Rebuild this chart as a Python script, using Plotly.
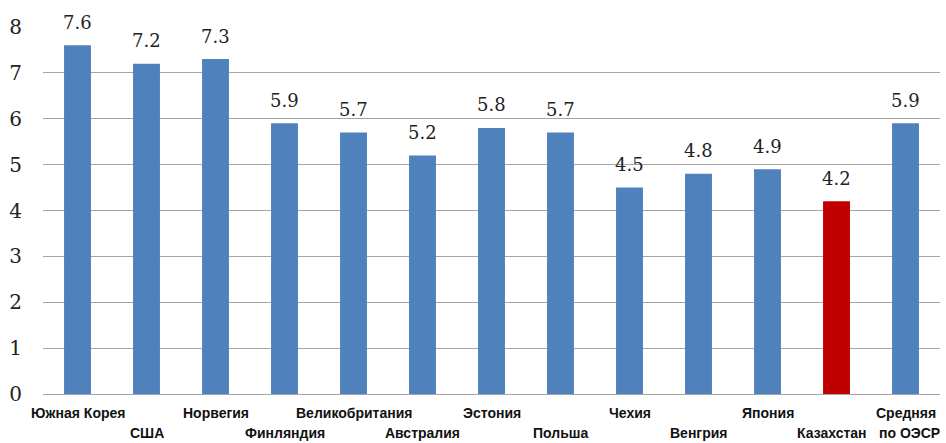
import plotly.graph_objects as go

categories = ["Южная Корея", "США", "Норвегия", "Финляндия", "Великобритания", "Австралия",
              "Эстония", "Польша", "Чехия", "Венгрия", "Япония", "Казахстан", "Средняя<br>по ОЭСР"]
values = [7.6, 7.2, 7.3, 5.9, 5.7, 5.2, 5.8, 5.7, 4.5, 4.8, 4.9, 4.2, 5.9]
value_labels = ["7.6", "7.2", "7.3", "5.9", "5.7", "5.2", "5.8", "5.7", "4.5", "4.8", "4.9", "4.2", "5.9"]
y_ticks = [0, 1, 2, 3, 4, 5, 6, 7, 8]

blue = "#4F81BD"
red = "#C00000"
colors = [red if c == "Казахстан" else blue for c in categories]
xs = list(range(len(categories)))

fig = go.Figure()
fig.add_trace(go.Bar(
    x=xs, y=values, marker=dict(color=colors, line=dict(width=0)),
    width=0.39, hoverinfo="skip", showlegend=False,
))

annotations = []
for i, (c, v, t) in enumerate(zip(categories, values, value_labels)):
    annotations.append(dict(
        x=i, y=v, xref="x", yref="y", text=t, showarrow=False,
        yanchor="middle", yshift=23,
        font=dict(family="DejaVu Serif", size=18, color="#222222"),
    ))
    lines = c.split("<br>")
    if len(lines) == 2:
        row_shifts = [(lines[0], -19, 0), (lines[1], -39, 4)]
    else:
        row_shifts = [(c, -19 if i % 2 == 0 else -39, -5 if c == "Казахстан" else 0)]
    for txt, ys, xsh in row_shifts:
        annotations.append(dict(
            x=i, y=0, xref="x", yref="y", text="<b>" + txt + "</b>", showarrow=False,
            yanchor="middle", yshift=ys, xshift=xsh,
            font=dict(family="Liberation Sans", size=14, color="#111111"),
        ))

fig.update_layout(
    width=946, height=443,
    margin=dict(l=43, r=6, t=27, b=49),
    paper_bgcolor="white", plot_bgcolor="white",
    annotations=annotations,
    xaxis=dict(range=[-0.5, len(categories) - 0.5], showticklabels=False, showgrid=False,
               zeroline=False, showline=False, ticks=""),
    yaxis=dict(range=[0, 8], tickvals=y_ticks, showgrid=True, gridcolor="#A6A6A6", gridwidth=1,
               zeroline=True, zerolinecolor="#A6A6A6", zerolinewidth=1, showline=False,
               ticks="", ticklabelstandoff=20,
               tickfont=dict(family="DejaVu Serif", size=20, color="#222222")),
)

fig.write_html("out.html", config={"displayModeBar": False},
               post_script="document.body.style.margin='0';document.body.style.overflow='hidden';")
